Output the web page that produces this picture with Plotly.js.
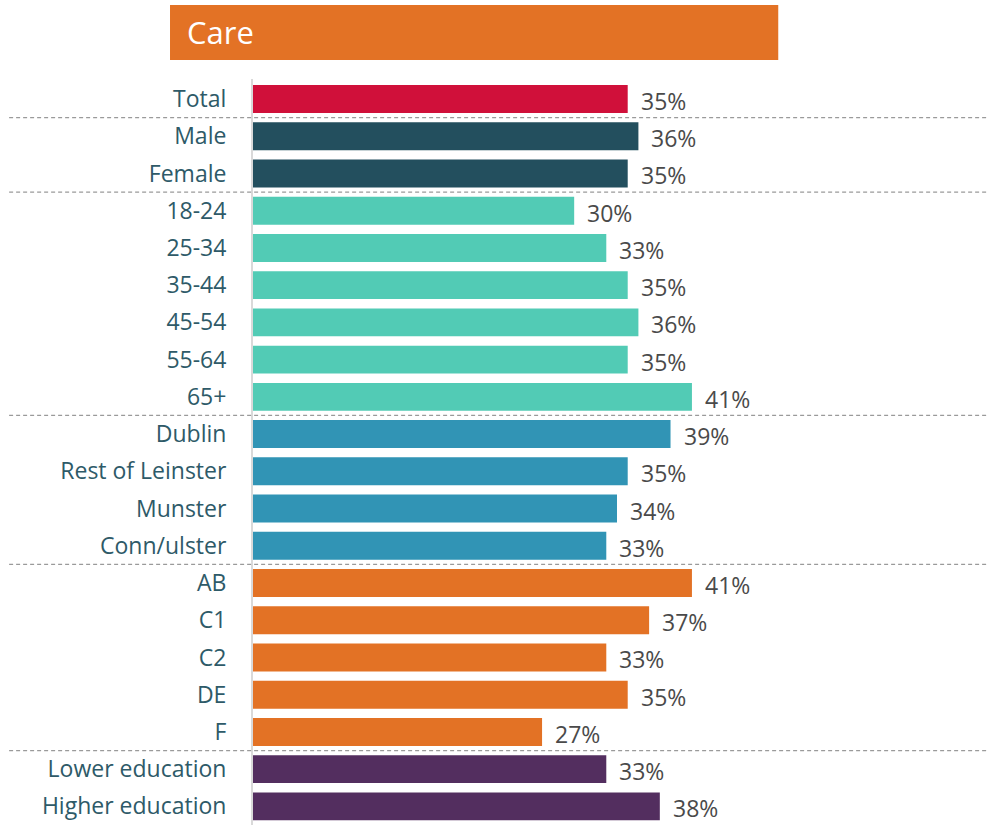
<!DOCTYPE html>
<html>
<head>
<meta charset="utf-8">
<script src="https://cdn.plot.ly/plotly-3.0.1.min.js"></script>
<style>html,body{margin:0;padding:0;background:#fff;}#chart{width:988px;height:825px;}</style>
</head>
<body>
<div id="chart"></div>
<script>
const categories = ["Total","Male","Female","18-24","25-34","35-44","45-54","55-64","65+","Dublin","Rest of Leinster","Munster","Conn/ulster","AB","C1","C2","DE","F","Lower education","Higher education"];
const values = [35,36,35,30,33,35,36,35,41,39,35,34,33,41,37,33,35,27,33,38];
const groups = ["total","gender","gender","age","age","age","age","age","age","region","region","region","region","class","class","class","class","class","edu","edu"];
const groupColors = {total:"#D0103A", gender:"#234F5E", age:"#52CBB5", region:"#3194B5", class:"#E37225", edu:"#532E5F"};
const titleText = "Care";

const colors = groups.map(g => groupColors[g]);
const FONT = "'Open Sans', 'Noto Sans', sans-serif";

const trace = {
  type: "bar",
  orientation: "h",
  x: values,
  y: categories,
  marker: {color: colors, line: {width: 0}},
  width: 0.75,
  hoverinfo: "none"
};

const annotations = values.map((v, i) => ({
  x: v, y: categories[i], xref: "x", yref: "y",
  text: v + "%", showarrow: false, xanchor: "left", xshift: 11, yshift: -2,
  font: {family: FONT, size: 23, color: "#4a4a4a"}
}));
annotations.push({
  xref: "paper", yref: "paper", x: -0.094, y: 1.063, xanchor: "left", yanchor: "middle",
  text: titleText, showarrow: false,
  font: {family: FONT, size: 31, color: "#ffffff"}
});

const shapes = [];
// group separators
for (let i = 1; i < groups.length; i++) {
  if (groups[i] !== groups[i-1]) {
    shapes.push({type: "line", xref: "paper", yref: "y", x0: -0.335, x1: 1.02, y0: i - 0.5, y1: i - 0.5,
      line: {color: "#9a9a9a", width: 1.3, dash: "4px,3px"}});
  }
}
// title box
shapes.push({type: "rect", xref: "paper", yref: "paper", x0: -0.114, x1: 0.7215, y0: 1.0255, y1: 1.0992,
  fillcolor: "#E37225", line: {width: 0}, layer: "below"});

const layout = {
  width: 988, height: 825,
  margin: {l: 253, r: 7, t: 79, b: 0, pad: 0},
  paper_bgcolor: "#ffffff", plot_bgcolor: "#ffffff",
  showlegend: false,
  bargap: 0.25,
  xaxis: {range: [0, 68], visible: false, fixedrange: true},
  yaxis: {
    type: "category", autorange: "reversed", categoryorder: "array", categoryarray: categories,
    showline: true, linecolor: "#d9d9d9", linewidth: 2, showgrid: false, zeroline: false,
    ticks: "", ticklabelstandoff: 20,
    tickfont: {family: FONT, size: 23, color: "#2E5A68"}
  },
  annotations: annotations,
  shapes: shapes
};

Plotly.newPlot("chart", [trace], layout, {displayModeBar: false, staticPlot: true});
</script>
</body>
</html>
